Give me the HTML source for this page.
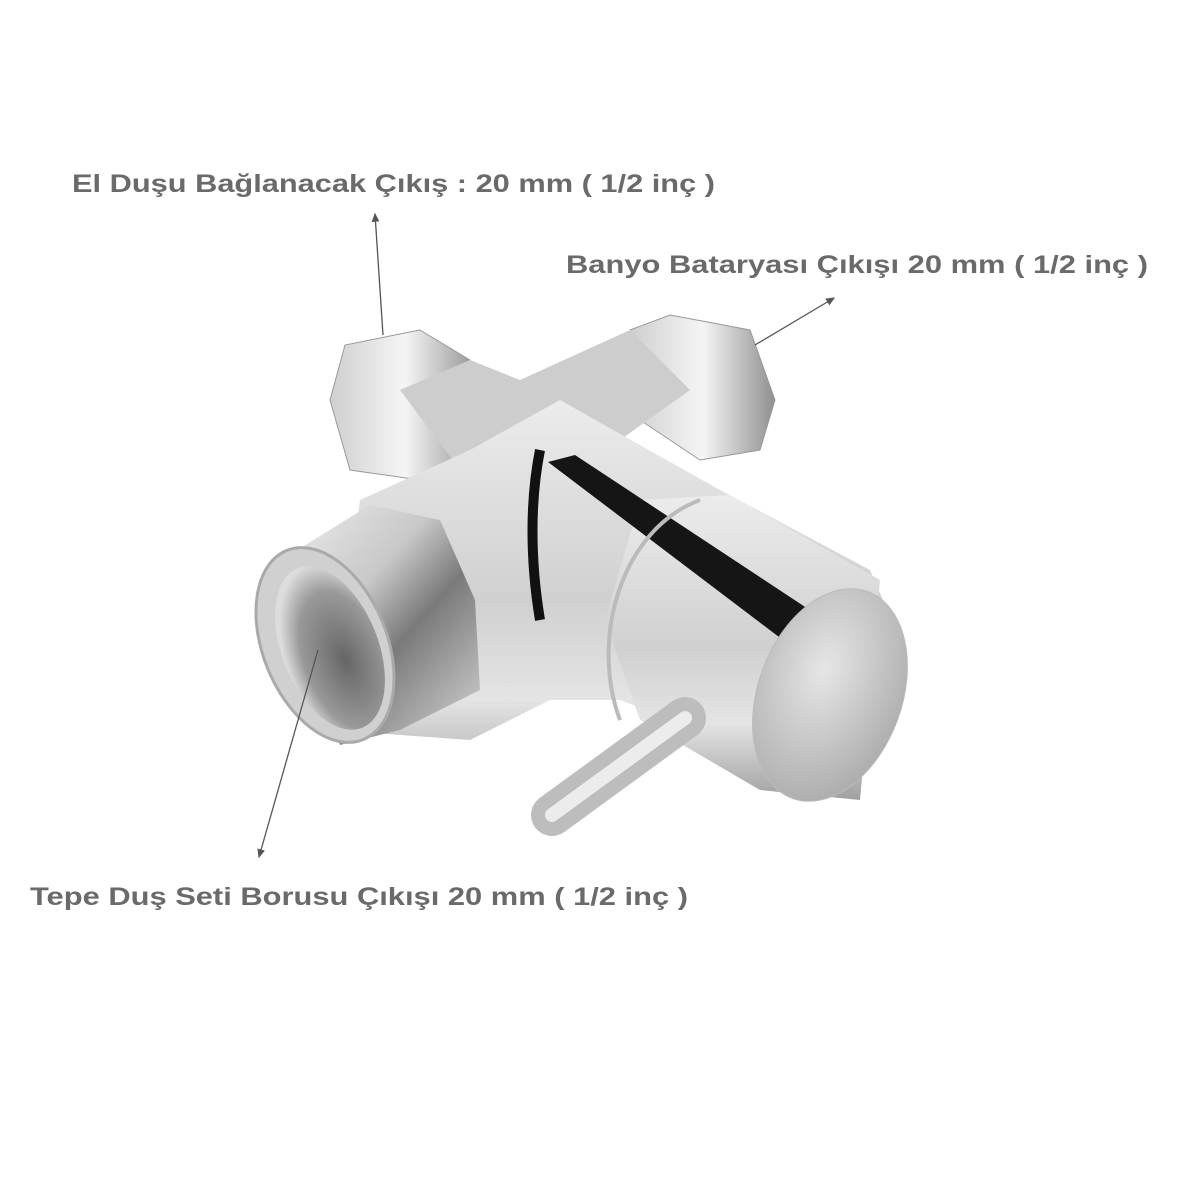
<!DOCTYPE html>
<html><head><meta charset="utf-8"><style>
html,body{margin:0;padding:0;background:#fff;}
svg{display:block;}
text{font-family:"Liberation Sans",sans-serif;font-weight:bold;font-size:25px;fill:#6a6a6a;}
</style></head><body>
<svg width="1200" height="1200" viewBox="0 0 1200 1200" xmlns="http://www.w3.org/2000/svg">
<defs>
<linearGradient id="g1" x1="0" y1="0" x2="1" y2="1">
<stop offset="0" stop-color="#f2f2f2"/><stop offset="0.4" stop-color="#c8c8c8"/><stop offset="0.6" stop-color="#7a7a7a"/><stop offset="1" stop-color="#d8d8d8"/></linearGradient>
<linearGradient id="g2" x1="0" y1="0" x2="1" y2="0">
<stop offset="0" stop-color="#cfcfcf"/><stop offset="0.5" stop-color="#f5f5f5"/><stop offset="1" stop-color="#909090"/></linearGradient>
<linearGradient id="g3" x1="0" y1="0" x2="0" y2="1">
<stop offset="0" stop-color="#ececec"/><stop offset="0.5" stop-color="#d0d0d0"/><stop offset="0.75" stop-color="#e4e4e4"/><stop offset="1" stop-color="#a0a0a0"/></linearGradient>
<radialGradient id="g4" cx="0.4" cy="0.4" r="0.7"><stop offset="0" stop-color="#e6e6e6"/><stop offset="1" stop-color="#a8a8a8"/></radialGradient>
<radialGradient id="g5" cx="0.6" cy="0.6" r="0.6"><stop offset="0" stop-color="#666"/><stop offset="0.7" stop-color="#999"/><stop offset="1" stop-color="#ddd"/></radialGradient>
<marker id="ah" markerWidth="8" markerHeight="8" refX="6" refY="4" orient="auto"><path d="M0,1 L7,4 L0,7 Z" fill="#555"/></marker>
</defs>
<polygon points="330,400 345,345 420,330 470,360 480,440 420,480 350,470" fill="url(#g2)" stroke="#999"/>
<polygon points="630,330 670,315 750,330 775,400 760,450 700,460 640,420" fill="url(#g2)" stroke="#999"/>
<polygon points="400,390 470,360 520,380 630,330 690,390 620,440 560,420 460,470" fill="#cdcdcd"/>
<polygon points="360,500 470,450 560,400 720,490 870,570 900,640 820,800 720,760 700,730 620,700 550,700 470,740 330,730" fill="url(#g3)"/>
<path d="M540,450 C530,500 530,560 540,620" stroke="#111" stroke-width="10" fill="none"/>
<polygon points="640,500 730,495 880,580 860,800 760,790 640,720 605,620" fill="url(#g3)"/>
<polygon points="548,462 575,455 840,630 820,668" fill="#151515"/>
<path d="M700,500 C620,530 590,640 620,720" stroke="#bbb" stroke-width="4" fill="none"/>
<ellipse cx="830" cy="695" rx="72" ry="110" transform="rotate(20 830 695)" fill="url(#g4)" stroke="#bbb"/>
<polygon points="265,570 370,505 440,520 475,600 480,690 400,730 340,745" fill="url(#g1)"/>
<ellipse cx="325" cy="645" rx="62" ry="102" transform="rotate(-22 325 645)" fill="#d0d0d0" stroke="#aaa" stroke-width="3"/>
<ellipse cx="330" cy="648" rx="48" ry="86" transform="rotate(-22 330 648)" fill="url(#g5)"/>
<line x1="552" y1="815" x2="685" y2="718" stroke="#bdbdbd" stroke-width="42" stroke-linecap="round"/>
<line x1="552" y1="815" x2="685" y2="718" stroke="#ececec" stroke-width="14" stroke-linecap="round"/>
<line x1="383" y1="335" x2="375" y2="214" stroke="#555" stroke-width="1.3" marker-end="url(#ah)"/>
<line x1="755" y1="345" x2="834" y2="298" stroke="#555" stroke-width="1.3" marker-end="url(#ah)"/>
<line x1="318" y1="650" x2="259" y2="857" stroke="#555" stroke-width="1.3" marker-end="url(#ah)"/>
<text x="72" y="192" textLength="643" lengthAdjust="spacingAndGlyphs">El Duşu Bağlanacak Çıkış : 20 mm ( 1/2 inç )</text>
<text x="566" y="273" textLength="582" lengthAdjust="spacingAndGlyphs">Banyo Bataryası Çıkışı 20 mm ( 1/2 inç )</text>
<text x="30" y="905" textLength="658" lengthAdjust="spacingAndGlyphs">Tepe Duş Seti Borusu Çıkışı 20 mm ( 1/2 inç )</text>
</svg>
</body></html>
